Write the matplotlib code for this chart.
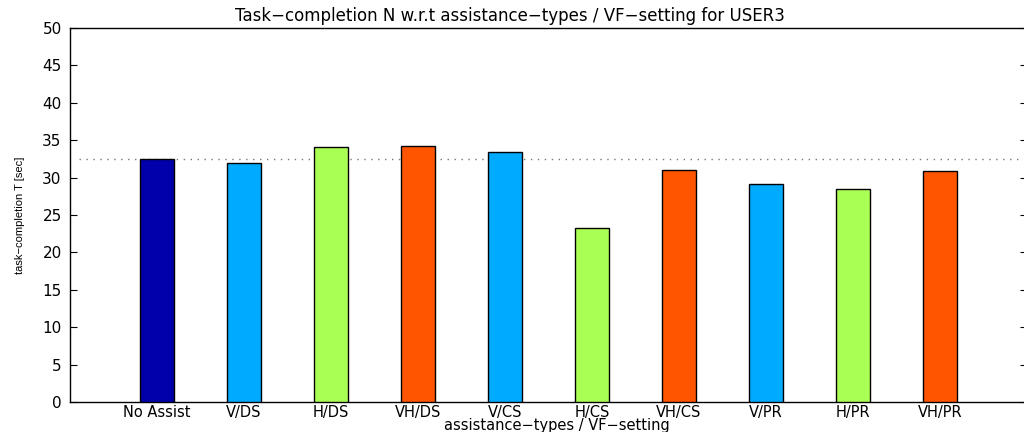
"""Task completion time per assistance type for USER3"""

import matplotlib.pyplot as plt
import numpy as np

plt.rcParams["font.family"] = ["DejaVu Sans"]

# data
labels = ["No Assist", "V/DS", "H/DS", "VH/DS", "V/CS", "H/CS", "VH/CS", "V/PR", "H/PR", "VH/PR"]
times = [32.5, 32.0, 34.1, 34.2, 33.4, 23.3, 31.0, 29.2, 28.5, 30.9]
colors = ["#0000AA", "#00AAFF", "#AAFF55", "#FF5500", "#00AAFF",
          "#AAFF55", "#FF5500", "#00AAFF", "#AAFF55", "#FF5500"]
baseline = 32.5

x = np.arange(1, len(labels) + 1)

fig = plt.figure(figsize=(10.24, 4.32), dpi=100)
ax = fig.add_axes([70 / 1024, 1 - 402 / 432, 957 / 1024, 374 / 432])

ax.bar(x, times, width=0.4, color=colors, edgecolor="black", linewidth=1.0, zorder=3)
ax.plot([0.1, 10.9], [baseline, baseline], linestyle=(0, (1, 4)), color="#777777",
        linewidth=1.0, zorder=2)

ax.set_xlim(0, 11)
ax.set_ylim(0, 50)
ax.set_xticks(x)
ax.set_xticklabels(labels, fontsize=10.5)
ax.set_yticks(np.arange(0, 51, 5))
ax.tick_params(axis="y", labelsize=11, pad=6)
ax.tick_params(direction="in", top=True, right=True, length=5, width=0.8)
ax.tick_params(axis="x", length=0, pad=2)

for s in ax.spines.values():
    s.set_linewidth(1.0)

fig.text(510 / 1024, 1 - 16 / 432,
         "Task\u2212completion N w.r.t assistance\u2212types / VF\u2212setting for USER3",
         fontsize=12, ha="center", va="center")
fig.text(557 / 1024, 1 - 425.5 / 432, "assistance\u2212types / VF\u2212setting",
         fontsize=10.5, ha="center", va="center")
fig.text(20 / 1024, 1 - 215 / 432, "task\u2212completion T [sec]",
         family="Liberation Sans", fontsize=8,
         rotation=90, ha="center", va="center")

fig.savefig("out.png", dpi=100)
